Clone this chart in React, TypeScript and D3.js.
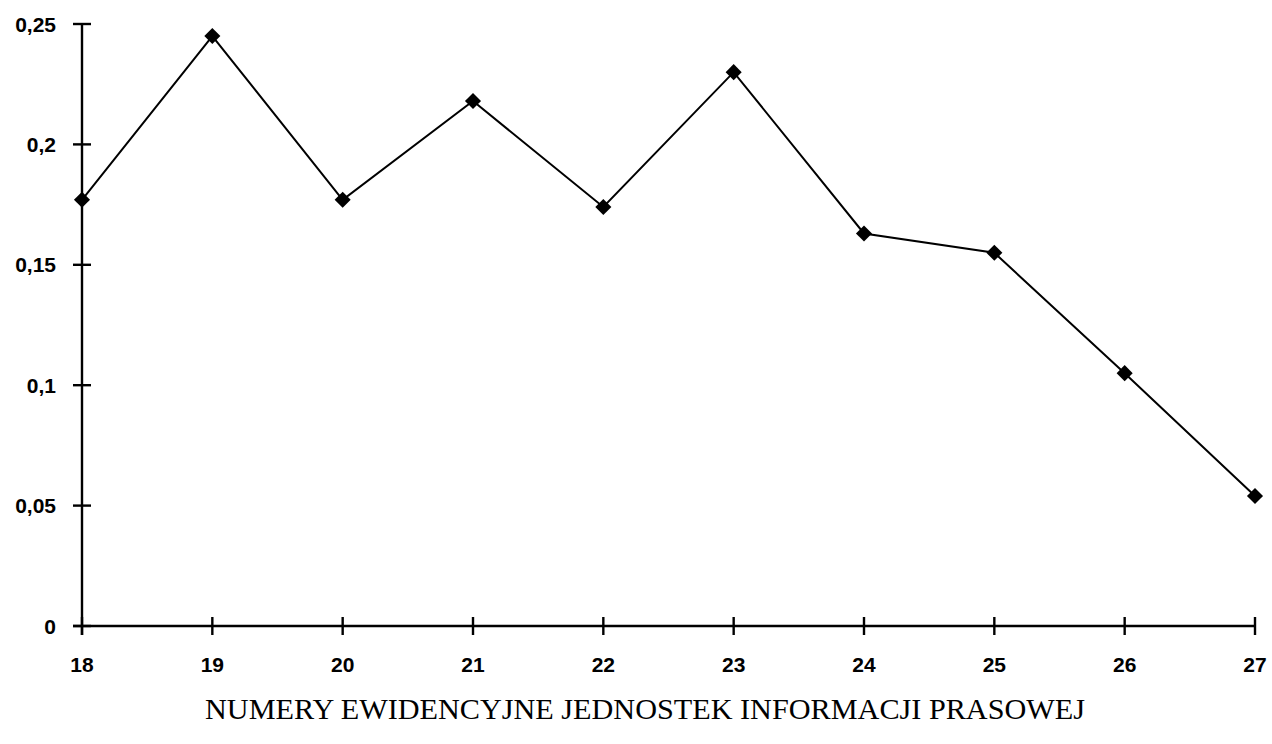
import * as d3 from "d3";
import React, { useEffect, useRef } from "react";

const categories: number[] = [18, 19, 20, 21, 22, 23, 24, 25, 26, 27];
const values: number[] = [0.177, 0.245, 0.177, 0.218, 0.174, 0.23, 0.163, 0.155, 0.105, 0.054];
const yTicks: number[] = [0, 0.05, 0.1, 0.15, 0.2, 0.25];
const yTickLabels: string[] = ["0", "0,05", "0,1", "0,15", "0,2", "0,25"];
const xTitle = "NUMERY EWIDENCYJNE JEDNOSTEK INFORMACJI PRASOWEJ";

const App = () => {
	const ref = useRef<SVGSVGElement>(null);

	useEffect(() => {
		const width = 1272;
		const height = 744;
		const loff = 82;
		const roff = 1255;
		const top = 24;
		const bottom = 626;

		const svg = d3.select(ref.current);
		svg.selectAll("*").remove();

		const xScale = d3
			.scaleLinear()
			.domain([categories[0], categories[categories.length - 1]])
			.range([loff, roff]);
		const yScale = d3.scaleLinear().domain([0, 0.25]).range([bottom, top]);

		svg.append("rect")
			.attr("width", width)
			.attr("height", height)
			.attr("fill", "#fff");

		// y axis
		svg.append("line")
			.attr("x1", loff)
			.attr("x2", loff)
			.attr("y1", yScale(0.25))
			.attr("y2", yScale(0) + 9)
			.attr("stroke", "#000")
			.attr("stroke-width", 2.4);

		yTicks.forEach((t, i) => {
			svg.append("line")
				.attr("x1", loff - 9)
				.attr("x2", loff + 9)
				.attr("y1", yScale(t))
				.attr("y2", yScale(t))
				.attr("stroke", "#000")
				.attr("stroke-width", 2.4);
			svg.append("text")
				.attr("x", loff - 26)
				.attr("y", yScale(t))
				.attr("dy", "0.36em")
				.attr("text-anchor", "end")
				.attr("font-family", "Liberation Sans, Arial, sans-serif")
				.attr("font-weight", "bold")
				.attr("font-size", 21)
				.text(yTickLabels[i]);
		});

		// x axis
		svg.append("line")
			.attr("x1", loff - 9)
			.attr("x2", roff)
			.attr("y1", bottom)
			.attr("y2", bottom)
			.attr("stroke", "#000")
			.attr("stroke-width", 2.4);

		categories.forEach((c) => {
			svg.append("line")
				.attr("x1", xScale(c))
				.attr("x2", xScale(c))
				.attr("y1", bottom - 9)
				.attr("y2", bottom + 9)
				.attr("stroke", "#000")
				.attr("stroke-width", 2.4);
			svg.append("text")
				.attr("x", xScale(c))
				.attr("y", bottom + 46)
				.attr("text-anchor", "middle")
				.attr("font-family", "Liberation Sans, Arial, sans-serif")
				.attr("font-weight", "bold")
				.attr("font-size", 21)
				.text(c);
		});

		const pts = categories.map((c, i) => [c, values[i]] as [number, number]);

		svg.append("path")
			.datum(pts)
			.attr("fill", "none")
			.attr("stroke", "#000")
			.attr("stroke-width", 2)
			.attr(
				"d",
				d3
					.line<[number, number]>()
					.x((d) => xScale(d[0]))
					.y((d) => yScale(d[1]))
			);

		svg.append("g")
			.selectAll("path")
			.data(pts)
			.enter()
			.append("path")
			.attr("d", d3.symbol().type(d3.symbolDiamond2).size(165)())
			.attr("transform", (d) => `translate(${xScale(d[0])},${yScale(d[1])})`)
			.attr("fill", "#000");

		svg.append("text")
			.attr("x", 645)
			.attr("y", 719)
			.attr("text-anchor", "middle")
			.attr("font-family", "Liberation Serif, Times New Roman, serif")
			.attr("font-size", 29)
			.attr("textLength", 880)
			.attr("lengthAdjust", "spacingAndGlyphs")
			.text(xTitle);
	});

	return (
		<svg
			ref={ref}
			width={1272}
			height={744}
			style={{ position: "absolute", left: 0, top: 0 }}
		></svg>
	);
};

export default App;
